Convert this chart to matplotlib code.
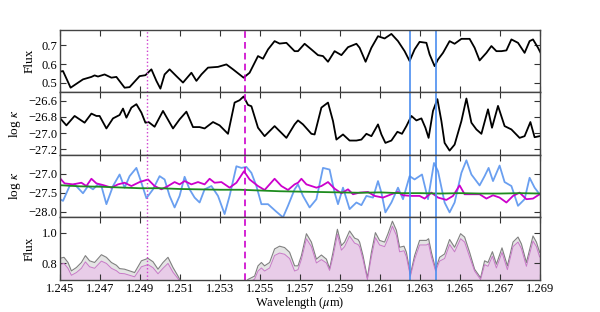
import matplotlib
matplotlib.use("Agg")
import matplotlib.pyplot as plt

plt.rcParams['font.family'] = ['Liberation Serif', 'DejaVu Serif']
plt.rcParams['mathtext.fontset'] = 'stix'

# ---------------- data ----------------
# Panel 1: observed flux
flux1_x = [1.24498, 1.24515, 1.24553, 1.24615, 1.24657, 1.24673, 1.2469, 1.24723, 1.24757, 1.24782,
           1.24823, 1.24848, 1.24898, 1.24927, 1.24957, 1.24982, 1.25002, 1.25023, 1.25048, 1.25082,
           1.25115, 1.25157, 1.25182, 1.25207, 1.2524, 1.2529, 1.25332, 1.25365, 1.25418, 1.25448,
           1.2549, 1.25515, 1.2554, 1.25573, 1.25598, 1.25632, 1.25673,
           1.2569, 1.25723, 1.25757, 1.2579, 1.25815, 1.2584, 1.25873, 1.25907, 1.2594, 1.25982,
           1.25998, 1.26028, 1.26057, 1.2609, 1.26123, 1.26157, 1.2619, 1.26223, 1.26248, 1.26273,
           1.26298, 1.26332, 1.26348, 1.26373, 1.2639, 1.26415, 1.26448, 1.26473, 1.26507, 1.26548,
           1.26573, 1.26598, 1.26632, 1.26657, 1.26682, 1.26707, 1.26732, 1.26757, 1.2679, 1.26823,
           1.26848, 1.26865, 1.2689, 1.26903]
flux1_y = [0.559, 0.563, 0.475, 0.519, 0.532, 0.540, 0.534, 0.545, 0.528, 0.532,
           0.475, 0.478, 0.536, 0.541, 0.572, 0.511, 0.470, 0.545, 0.572, 0.536,
           0.502, 0.554, 0.511, 0.545, 0.581, 0.585, 0.598, 0.572, 0.528, 0.554,
           0.642, 0.628, 0.677, 0.721, 0.708, 0.712, 0.668,
           0.668, 0.707, 0.677, 0.647, 0.642, 0.612, 0.668, 0.647, 0.689, 0.707,
           0.686, 0.612, 0.686, 0.747, 0.735, 0.759, 0.721, 0.668, 0.616, 0.677,
           0.717, 0.712, 0.651, 0.589, 0.624, 0.659, 0.721, 0.707, 0.733, 0.733,
           0.686, 0.619, 0.659, 0.695, 0.668, 0.668, 0.672, 0.730, 0.712, 0.659,
           0.721, 0.730, 0.686, 0.659]

# Panel 2: log kappa (black)
kap2_x = [1.24498, 1.24532, 1.24573, 1.24623, 1.24657, 1.24682, 1.24698, 1.24732, 1.24765, 1.24798,
          1.24815, 1.24832, 1.24857, 1.24882, 1.24907, 1.24927, 1.24943, 1.24973, 1.25015, 1.25065,
          1.25098, 1.25132, 1.25165, 1.25198, 1.25223, 1.25265, 1.25298, 1.2534, 1.25373, 1.25398,
          1.25418, 1.2544, 1.25457, 1.2549, 1.25523, 1.25573, 1.25632, 1.25673,
          1.2569, 1.25715, 1.25757, 1.25773, 1.25807, 1.2584, 1.25865, 1.25882, 1.25915, 1.25948,
          1.25982, 1.26007, 1.26032, 1.26057, 1.2609, 1.26107, 1.26127, 1.26157, 1.26187, 1.2621,
          1.26232, 1.26257, 1.26282, 1.26307, 1.26327, 1.26343, 1.26365, 1.26387, 1.26407, 1.26423,
          1.26448, 1.26473, 1.26507, 1.26532, 1.26557, 1.26582, 1.26607, 1.2664, 1.2666, 1.2669,
          1.26723, 1.26757, 1.26798, 1.26823, 1.26852, 1.26873, 1.26898]
kap2_y = [-26.811, -26.906, -26.790, -26.873, -26.761, -26.790, -26.790, -26.944, -26.820, -26.778,
          -26.699, -26.811, -26.687, -26.645, -26.749, -26.873, -26.865, -26.923, -26.728, -26.944,
          -26.832, -26.737, -26.927, -26.927, -26.944, -26.865, -26.906, -27.010, -26.625, -26.596,
          -26.550, -26.654, -26.670, -26.935, -27.039, -26.915, -27.060, -26.894,
          -26.845, -26.894, -27.010, -27.018, -26.687, -26.625, -26.853, -27.081, -27.018, -27.093,
          -27.093, -27.081, -27.010, -27.039, -26.894, -27.018, -27.122, -27.093, -26.985, -27.010,
          -26.915, -26.790, -26.845, -26.820, -26.935, -27.060, -26.728, -26.583, -26.853, -27.122,
          -27.217, -27.143, -26.853, -26.575, -26.873, -26.956, -27.010, -26.708, -26.935, -26.666,
          -26.915, -26.956, -27.060, -27.039, -26.865, -27.052, -27.039]

# Panel 3: three log kappa models
green_x = [1.245, 1.246, 1.247, 1.248, 1.249, 1.250, 1.251, 1.252, 1.253, 1.254, 1.255, 1.256,
           1.257, 1.258, 1.259, 1.260, 1.261, 1.262, 1.263, 1.264, 1.265, 1.266, 1.267, 1.268, 1.269]
green_y = [-27.30, -27.33, -27.34, -27.36, -27.38, -27.38, -27.40, -27.41, -27.42, -27.42, -27.44, -27.46,
           -27.47, -27.48, -27.49, -27.50, -27.49, -27.51, -27.51, -27.52, -27.51, -27.52, -27.52, -27.51, -27.52]

mag_x = [1.24498, 1.24523, 1.24565, 1.24607, 1.24632, 1.24657, 1.24682, 1.24715, 1.24757, 1.2479,
         1.24823, 1.24857, 1.24898, 1.2494, 1.24973, 1.25007, 1.2504, 1.25073, 1.25098, 1.25123,
         1.25157, 1.2519, 1.25223, 1.25248, 1.25273, 1.25307, 1.25348, 1.25382, 1.2542, 1.25448,
         1.2549, 1.25523, 1.25573, 1.25607, 1.2564, 1.25673,
         1.2569, 1.25707, 1.25732, 1.25782, 1.25807, 1.2584, 1.25873, 1.25907, 1.2594, 1.25965,
         1.25998, 1.2604, 1.26073, 1.26115, 1.26157, 1.2619, 1.26215, 1.26257, 1.26298, 1.26323,
         1.26357, 1.2639, 1.26432, 1.26465, 1.26498, 1.26523, 1.26557, 1.26598, 1.26632, 1.26665,
         1.26698, 1.26732, 1.26765, 1.26798, 1.26832, 1.26865, 1.26898]
mag_y = [-27.104, -27.252, -27.278, -27.235, -27.322, -27.130, -27.252, -27.296, -27.365, -27.278,
         -27.235, -27.322, -27.217, -27.148, -27.322, -27.409, -27.322, -27.217, -27.278, -27.191,
         -27.278, -27.217, -27.278, -27.130, -27.235, -27.217, -27.365, -27.235, -26.930, -27.148,
         -27.322, -27.426, -27.130, -27.322, -27.426, -27.278,
         -27.235, -27.130, -27.278, -27.365, -27.322, -27.217, -27.392, -27.513, -27.409, -27.539,
         -27.496, -27.479, -27.583, -27.627, -27.539, -27.479, -27.566, -27.583, -27.583, -27.653,
         -27.496, -27.627, -27.688, -27.583, -27.305, -27.539, -27.539, -27.539, -27.653, -27.566,
         -27.627, -27.757, -27.583, -27.496, -27.670, -27.653, -27.539]

blue_x = [1.245, 1.24515, 1.24548, 1.24573, 1.24615, 1.2464, 1.24665, 1.2469, 1.24707, 1.24732,
          1.24765, 1.24798, 1.24823, 1.24848, 1.24882, 1.24907, 1.24932, 1.24965, 1.24998, 1.25023,
          1.25048, 1.25073, 1.25098, 1.25123, 1.25148, 1.25173, 1.25198, 1.25223, 1.25257, 1.2529,
          1.25323, 1.25348, 1.25382, 1.25407, 1.25432, 1.25457, 1.25482, 1.25507, 1.2554, 1.25582,
          1.25615, 1.2564, 1.25673,
          1.2569, 1.25715, 1.25748, 1.25782, 1.25815, 1.25848, 1.25873, 1.2589, 1.25915, 1.25948,
          1.25982, 1.26007, 1.26032, 1.26065, 1.2609, 1.26107, 1.26127, 1.26157, 1.2619, 1.26215,
          1.26248, 1.26273, 1.2631, 1.2634, 1.2637, 1.2639, 1.26423, 1.26448, 1.26473, 1.26507,
          1.26532, 1.26557, 1.26598, 1.26623, 1.26643, 1.26665, 1.26698, 1.26723, 1.26757, 1.2679,
          1.26823, 1.26848, 1.26873, 1.26898]
blue_y = [-27.670, -27.714, -27.322, -27.278, -27.513, -27.322, -27.409, -27.278, -27.322, -27.801,
          -27.322, -27.017, -27.365, -27.061, -26.843, -27.235, -27.644, -27.409, -27.061, -27.148,
          -27.583, -27.888, -27.583, -27.078, -27.409, -27.627, -27.757, -27.409, -27.322, -27.583,
          -28.062, -27.583, -26.800, -26.843, -26.817, -26.974, -27.322, -27.801, -27.801, -28.001,
          -28.149, -27.844, -27.409,
          -27.278, -27.583, -27.888, -27.670, -26.843, -26.887, -27.496, -27.801, -27.365, -27.931,
          -27.757, -27.827, -27.583, -27.627, -27.191, -27.496, -28.018, -27.757, -27.365, -27.670,
          -27.061, -27.148, -27.017, -27.670, -26.713, -26.930, -27.757, -28.018, -27.757, -26.974,
          -26.643, -27.017, -27.305, -27.061, -26.843, -27.191, -26.782, -27.217, -27.322, -27.844,
          -27.670, -27.104, -27.365, -27.539]

# Panel 4: flux bands (upper grey, lower pink)
band_x = [1.24498, 1.2452, 1.2454, 1.24557, 1.24582, 1.24607, 1.24627, 1.24648, 1.24673, 1.24707,
          1.24732, 1.24757, 1.24782, 1.24798, 1.24823, 1.24848, 1.24873, 1.24907, 1.2494, 1.24965,
          1.2499, 1.25015, 1.2504, 1.25065, 1.2509, 1.25103,
          1.2515, 1.2525, 1.2535, 1.2542,
          1.2544, 1.25457, 1.25473, 1.2549, 1.25507, 1.25523, 1.25548, 1.25573, 1.25598, 1.25623,
          1.25648, 1.25673,
          1.2569, 1.25707, 1.25732, 1.25757, 1.25782, 1.25807, 1.25832, 1.25848, 1.25865, 1.25887,
          1.25907, 1.25923, 1.25948, 1.25973, 1.2599, 1.25998, 1.26015, 1.26037, 1.26057, 1.26077,
          1.26098, 1.26123, 1.2614, 1.26162, 1.26182, 1.26198, 1.2622, 1.26232, 1.26252, 1.26273,
          1.26298, 1.26332, 1.26343, 1.26357, 1.26378, 1.26398, 1.26423, 1.26448, 1.26473, 1.26503,
          1.26523, 1.26548, 1.26573, 1.26603, 1.26623, 1.2664, 1.26662, 1.26682, 1.2671, 1.26737,
          1.26765, 1.2679, 1.26807, 1.26832, 1.26865, 1.26882, 1.26898]
band_hi = [0.831, 0.838, 0.804, 0.749, 0.771, 0.804, 0.849, 0.815, 0.804, 0.855,
           0.838, 0.804, 0.786, 0.764, 0.760, 0.749, 0.738, 0.815, 0.831, 0.809,
           0.760, 0.804, 0.838, 0.771, 0.715, 0.682,
           0.640, 0.600, 0.610, 0.660,
           0.693, 0.704, 0.715, 0.782, 0.804, 0.782, 0.804, 0.893, 0.911, 0.902,
           0.871, 0.782,
           0.782, 0.849, 0.993, 0.938, 0.826, 0.853, 0.826, 0.764, 0.871, 1.022,
           0.915, 0.938, 1.011, 0.964, 0.955, 0.938, 0.849, 0.704, 0.871, 1.000,
           0.949, 0.938, 0.993, 1.075, 1.015, 0.904, 0.911, 0.871, 0.726, 0.849,
           0.949, 0.949, 0.960, 0.871, 0.760, 0.838, 0.860, 0.955, 0.904, 0.993,
           0.971, 0.871, 0.760, 0.704, 0.815, 0.804, 0.875, 0.793, 0.900, 0.782,
           0.938, 0.971, 0.926, 0.804, 0.978, 0.938, 0.871]
band_lo = [0.790, 0.798, 0.766, 0.720, 0.738, 0.766, 0.808, 0.776, 0.766, 0.813,
           0.798, 0.766, 0.750, 0.733, 0.730, 0.720, 0.710, 0.776, 0.790, 0.770,
           0.730, 0.766, 0.798, 0.740, 0.698, 0.668,
           0.620, 0.580, 0.590, 0.640,
           0.672, 0.682, 0.695, 0.748, 0.768, 0.748, 0.768, 0.850, 0.866, 0.858,
           0.830, 0.748,
           0.757, 0.824, 0.960, 0.908, 0.801, 0.823, 0.801, 0.752, 0.841, 0.989,
           0.885, 0.908, 0.978, 0.931, 0.922, 0.908, 0.824, 0.692, 0.841, 0.967,
           0.919, 0.908, 0.960, 1.042, 0.982, 0.874, 0.881, 0.841, 0.714, 0.824,
           0.919, 0.919, 0.927, 0.841, 0.748, 0.813, 0.830, 0.922, 0.874, 0.960,
           0.938, 0.841, 0.748, 0.692, 0.790, 0.779, 0.845, 0.768, 0.870, 0.757,
           0.908, 0.938, 0.896, 0.779, 0.945, 0.908, 0.841]

# Marker wavelengths
dotted_wl = 1.24935
dashed_wl = 1.25424
blue_wl = [1.2625, 1.2638]

xticks = [1.245, 1.247, 1.249, 1.251, 1.253, 1.255, 1.257, 1.259, 1.261, 1.263, 1.265, 1.267, 1.269]
xticklabels = ['1.245', '1.247', '1.249', '1.251', '1.253', '1.255', '1.257',
               '1.259', '1.261', '1.263', '1.265', '1.267', '1.269']

# ---------------- plot ----------------
fig, axes = plt.subplots(4, 1, figsize=(6.0, 3.12), dpi=100, sharex=True)
fig.subplots_adjust(left=0.1, right=0.9, top=0.904, bottom=0.103, hspace=0)
ax1, ax2, ax3, ax4 = axes

ax1.plot(flux1_x, flux1_y, color='black', lw=1.3)
ax1.set_ylim(0.45, 0.78)
ax1.set_yticks([0.5, 0.6, 0.7])
ax1.set_ylabel('Flux')

ax2.plot(kap2_x, kap2_y, color='black', lw=1.3)
ax2.set_ylim(-27.27, -26.5)
ax2.set_yticks([-26.6, -26.8, -27.0, -27.2])
ax2.set_ylabel(r'log $\kappa$')

ax3.plot(blue_x, blue_y, color='#6a9ff0', lw=1.3)
ax3.plot(mag_x, mag_y, color='#cc00cc', lw=1.3)
ax3.plot(green_x, green_y, color='#1e8c1e', lw=1.3)
ax3.set_ylim(-28.15, -26.5)
ax3.set_yticks([-27.0, -27.5, -28.0])
ax3.set_ylabel(r'log $\kappa$')

ax4.fill_between(band_x, 0, band_hi, color='#e4e4e4', lw=0)
ax4.plot(band_x, band_hi, color='#808080', lw=0.8)
ax4.fill_between(band_x, 0, band_lo, color='#e8cce8', lw=0)
ax4.plot(band_x, band_lo, color='#c878c8', lw=0.7)
ax4.set_ylim(0.69, 1.10)
ax4.set_yticks([0.8, 1.0])
ax4.set_ylabel('Flux')

for ax in axes:
    ax.axvline(dotted_wl, color='#d040d0', ls=':', lw=1.0)
    ax.axvline(dashed_wl, color='#cc00cc', ls=(0, (4, 2.5)), lw=1.2)
    for wl in blue_wl:
        ax.axvline(wl, color='#4a8ef0', lw=1.2)
    ax.set_xlim(1.245, 1.269)
    ax.tick_params(direction='in', top=True, right=True, length=4, width=0.8,
                   labelsize=9, colors='#333333', labelcolor='black', pad=2)
    for s in ax.spines.values():
        s.set_color('#444444')
        s.set_linewidth(1.0)
    ax.yaxis.label.set_size(9.5)

ax4.set_xticks(xticks)
ax4.set_xticklabels(xticklabels)
ax4.set_xlabel(r'Wavelength ($\mu$m)', fontsize=9, labelpad=0)

fig.savefig('out.png', dpi=100)
